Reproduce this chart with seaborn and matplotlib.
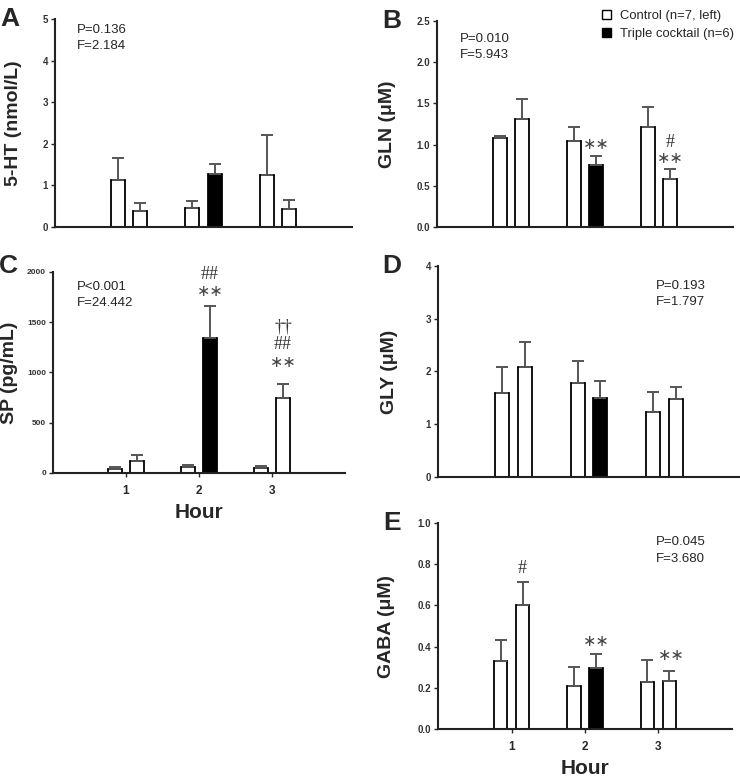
import pandas as pd
import numpy as np
import seaborn as sns
import matplotlib.pyplot as plt
from matplotlib.patches import Patch

# Data (mean and SEM, per hour)
hours = [1, 2, 3]
groups = ['Control', 'Triple cocktail']

ht_ctrl = [1.12, 0.457, 1.26]
ht_ctrl_err = [0.54, 0.17, 0.95]
ht_cock = [0.385, 1.28, 0.425]
ht_cock_err = [0.20, 0.24, 0.215]

gln_ctrl = [1.076, 1.044, 1.218]
gln_ctrl_err = [0.032, 0.174, 0.238]
gln_cock = [1.315, 0.752, 0.578]
gln_cock_err = [0.235, 0.106, 0.126]

sp_ctrl = [40, 56, 50]
sp_ctrl_err = [23, 20, 19]
sp_cock = [116, 1345, 750]
sp_cock_err = [59, 315, 133]

gly_ctrl = [1.59, 1.78, 1.23]
gly_ctrl_err = [0.49, 0.42, 0.375]
gly_cock = [2.09, 1.50, 1.47]
gly_cock_err = [0.46, 0.31, 0.24]

gaba_ctrl = [0.33, 0.207, 0.226]
gaba_ctrl_err = [0.10, 0.092, 0.11]
gaba_cock = [0.60, 0.296, 0.231]
gaba_cock_err = [0.112, 0.069, 0.05]

sns.set_theme(style='ticks')
plt.rcParams['font.family'] = ['Liberation Sans', 'DejaVu Sans']

fig = plt.figure(figsize=(7.4, 7.8), dpi=100)
axA = fig.add_axes([0.0743, 0.709, 0.4014, 0.2667])
axB = fig.add_axes([0.5905, 0.709, 0.400, 0.264])
axC = fig.add_axes([0.0716, 0.3936, 0.3946, 0.2577])
axD = fig.add_axes([0.592, 0.3885, 0.408, 0.2705])
axE = fig.add_axes([0.592, 0.0654, 0.397, 0.264])


def panel(ax, ctrl, ctrl_err, cock, cock_err, ylabel, yticks, fmt, letter, stats, stats_pos,
          label_x, tick_size=7, xlabels=False):
    df = pd.DataFrame({
        'Hour': hours * 2,
        'value': ctrl + cock,
        'err': ctrl_err + cock_err,
        'group': [groups[0]] * 3 + [groups[1]] * 3,
    })
    sns.barplot(data=df, x='Hour', y='value', hue='group', hue_order=groups,
                palette=['white', 'white'], native_scale=True, width=0.6, gap=0.38,
                edgecolor='black', linewidth=1.3, errorbar=None, legend=False, ax=ax)
    # black bar: cocktail at hour 2
    ax.containers[1][1].set_facecolor('black')
    for cont, err in zip(ax.containers, [ctrl_err, cock_err]):
        xs = [p.get_x() + p.get_width() / 2 for p in cont]
        ys = [p.get_height() for p in cont]
        ax.errorbar(xs, ys, yerr=[np.zeros(3), err], fmt='none', ecolor='#555555',
                    elinewidth=1.4, capsize=4, capthick=1.4, zorder=1)
    ax.set_xlim(0, 4)
    ax.set_ylim(yticks[0], yticks[-1])
    ax.set_yticks(yticks)
    ax.set_yticklabels([fmt.format(t) for t in yticks], fontsize=tick_size, fontweight='bold', color='#333333')
    ax.set_ylabel(ylabel, fontsize=14, fontweight='bold')
    # label_x is where the right edge of the rotated label sits
    ax.yaxis.set_label_coords(label_x, 0.5)
    if xlabels:
        ax.set_xticks(hours)
        ax.set_xticklabels([str(h) for h in hours], fontsize=8.5, fontweight='bold')
        ax.set_xlabel('Hour', fontsize=15, fontweight='bold', labelpad=4)
        ax.tick_params(axis='x', length=3, width=1, pad=6)
    else:
        ax.set_xticks([])
        ax.set_xlabel('')
    ax.tick_params(axis='y', length=3, width=1, pad=2)
    sns.despine(ax=ax)
    for s in ['left', 'bottom']:
        ax.spines[s].set_linewidth(1.5)
        ax.spines[s].set_color('#222222')
    ax.text(stats_pos[0], stats_pos[1], stats, transform=ax.transAxes, ha='left', va='top',
            fontsize=9.5, linespacing=1.45)
    ax.text(-0.185, 1.0, letter, transform=ax.transAxes, ha='left', va='center',
            fontsize=19, fontweight='bold')


panel(axA, ht_ctrl, ht_ctrl_err, ht_cock, ht_cock_err, '5-HT (nmol/L)',
      [0, 1, 2, 3, 4, 5], '{:d}', 'A', 'P=0.136\nF=2.184', (0.074, 0.975), -0.112)
panel(axB, gln_ctrl, gln_ctrl_err, gln_cock, gln_cock_err, 'GLN (μM)',
      [0.0, 0.5, 1.0, 1.5, 2.0, 2.5], '{:.1f}', 'B', 'P=0.010\nF=5.943', (0.078, 0.94), -0.139)
panel(axC, sp_ctrl, sp_ctrl_err, sp_cock, sp_cock_err, 'SP (pg/mL)',
      [0, 500, 1000, 1500, 2000], '{:d}', 'C', 'P<0.001\nF=24.442', (0.082, 0.955), -0.12,
      tick_size=6, xlabels=True)
panel(axD, gly_ctrl, gly_ctrl_err, gly_cock, gly_cock_err, 'GLY (μM)',
      [0, 1, 2, 3, 4], '{:d}', 'D', 'P=0.193\nF=1.797', (0.72, 0.935), -0.132)
panel(axE, gaba_ctrl, gaba_ctrl_err, gaba_cock, gaba_cock_err, 'GABA (μM)',
      [0.0, 0.2, 0.4, 0.6, 0.8, 1.0], '{:.1f}', 'E', 'P=0.045\nF=3.680', (0.74, 0.935), -0.146,
      xlabels=True)
axC.texts[-1].set_y(1.03)

# significance marks
star = dict(ha='center', va='center', fontsize=11.5, color='#444444', family='DejaVu Sans')
hashm = dict(ha='center', va='center', fontsize=13, color='#333333', family='Liberation Serif')
axB.text(2.15, 1.0, '∗∗', **star)
axB.text(3.15, 1.03, '#', **hashm)
axB.text(3.15, 0.83, '∗∗', **star)
axC.text(2.15, 1973, '##', **hashm)
axC.text(2.15, 1802, '∗∗', **star)
axC.text(3.15, 1448, '††', **hashm)
axC.text(3.15, 1279, '##', **hashm)
axC.text(3.15, 1101, '∗∗', **star)
axE.text(1.15, 0.78, '#', **hashm)
axE.text(2.15, 0.423, '∗∗', **star)
axE.text(3.17, 0.355, '∗∗', **star)

handles = [Patch(facecolor='white', edgecolor='black', linewidth=1),
           Patch(facecolor='black', edgecolor='black', linewidth=1)]
fig.legend(handles, ['Control (n=7, left)', 'Triple cocktail (n=6)'], loc='upper left',
           bbox_to_anchor=(602 / 740, 1 - 10 / 780), frameon=False, fontsize=9.4,
           handlelength=0.7, handleheight=0.7, handletextpad=0.7, labelspacing=0.45,
           borderpad=0, borderaxespad=0)

fig.savefig('out.png', dpi=100)
